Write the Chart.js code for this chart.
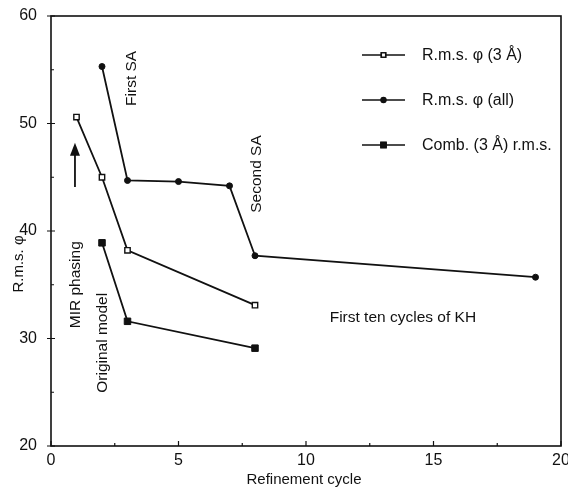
<!DOCTYPE html>
<html>
<head>
<meta charset="utf-8">
<title>Refinement cycle</title>
<script src="https://cdn.jsdelivr.net/npm/chart.js@4.4.1/dist/chart.umd.min.js"></script>
<style>
  html, body { margin: 0; padding: 0; background: #fff; }
  canvas { display: block; }
</style>
</head>
<body>
<canvas id="myChart" width="568" height="487"></canvas>
<script>
// r.m.s. phase error against refinement cycle
const cycles3A = [1, 2, 3, 8]
const rms3A = [50.6, 45.0, 38.2, 33.1]
const cyclesAll = [2, 3, 5, 7, 8, 19]
const rmsAll = [55.3, 44.7, 44.6, 44.2, 37.7, 35.7]
const cyclesComb = [2, 3, 8]
const rmsComb = [38.9, 31.6, 29.1]
const xTicks = [0, 5, 10, 15, 20]
const yTicks = [20, 30, 40, 50, 60]

const FONT = "'Liberation Sans', Arial, Helvetica, sans-serif"
const INK = '#111'

const toPoints = (xs, ys) => xs.map((x, i) => ({x: x, y: ys[i]}))

// notes written on the plot, placed in data units
const notes = [
    {text: 'First SA', x: 3.18, y: 54.2, rot: true},
    {text: 'Second SA', x: 8.08, y: 45.3, rot: true},
    {text: 'MIR phasing', x: 0.98, y: 35.0, rot: true},
    {text: 'Original model', x: 2.04, y: 29.6, rot: true},
    {text: 'First ten cycles of KH', x: 13.8, y: 31.9, rot: false}
]
const arrow = {x: 0.94, from: 44.1, to: 48.2}

// box, inward ticks, notes and the arrow
const plotDecor = {
    id: 'plotDecor',
    beforeDatasetsDraw(chart) {
        const {ctx, chartArea: a, scales: {x, y}} = chart
        ctx.save()
        ctx.strokeStyle = INK
        ctx.lineWidth = 1.6
        ctx.strokeRect(a.left, a.top, a.right - a.left, a.bottom - a.top)
        ctx.lineWidth = 1.2
        ctx.beginPath()
        for (let v = 0; v <= 20; v += 2.5) {
            const px = x.getPixelForValue(v)
            const len = v % 5 === 0 ? 5 : 3
            ctx.moveTo(px, a.bottom)
            ctx.lineTo(px, a.bottom - len)
        }
        for (let v = 20; v <= 60; v += 5) {
            const py = y.getPixelForValue(v)
            const major = v % 10 === 0
            ctx.moveTo(a.left - (major ? 4 : 0), py)
            ctx.lineTo(a.left + (major ? 4 : 3), py)
        }
        ctx.stroke()
        ctx.restore()
    },
    afterDatasetsDraw(chart) {
        const {ctx, chartArea: a, scales: {x, y}} = chart
        ctx.save()
        ctx.fillStyle = INK
        ctx.font = '15.5px ' + FONT
        ctx.textAlign = 'center'
        ctx.textBaseline = 'middle'
        notes.forEach(n => {
            const px = x.getPixelForValue(n.x)
            const py = y.getPixelForValue(n.y)
            ctx.save()
            ctx.translate(px, py)
            if (n.rot) ctx.rotate(-Math.PI / 2)
            ctx.fillText(n.text, 0, 0)
            ctx.restore()
        })

        // arrow pointing up
        const ax = x.getPixelForValue(arrow.x)
        const y0 = y.getPixelForValue(arrow.from)
        const y1 = y.getPixelForValue(arrow.to)
        ctx.strokeStyle = INK
        ctx.lineWidth = 1.8
        ctx.beginPath()
        ctx.moveTo(ax, y0)
        ctx.lineTo(ax, y1 + 10)
        ctx.stroke()
        ctx.beginPath()
        ctx.moveTo(ax, y1)
        ctx.lineTo(ax - 5, y1 + 13)
        ctx.lineTo(ax + 5, y1 + 13)
        ctx.closePath()
        ctx.fill()

        // axis titles
        ctx.font = '15px ' + FONT
        ctx.fillText('Refinement cycle', (a.left + a.right) / 2 - 2, 480)
        ctx.save()
        ctx.translate(19, 264)
        ctx.rotate(-Math.PI / 2)
        ctx.fillText('R.m.s. \u03c6', 0, 0)
        ctx.restore()

        // key, top right inside the box
        ctx.textAlign = 'left'
        ctx.font = '16px ' + FONT
        chart.data.datasets.forEach((ds, i) => {
            const ly = a.top + 39 + i * 45
            const lx0 = a.left + 311
            const lx1 = a.left + 354
            ctx.lineWidth = 1.6
            ctx.strokeStyle = INK
            ctx.beginPath()
            ctx.moveTo(lx0, ly)
            ctx.lineTo(lx1, ly)
            ctx.stroke()
            Chart.helpers.drawPoint(ctx, {
                pointStyle: ds.pointStyle,
                radius: ds.pointRadius * 0.8,
                rotation: 0,
                borderWidth: ds.pointBorderWidth
            }, (lx0 + lx1) / 2, ly)
            ctx.fillStyle = ds.pointBackgroundColor
            ctx.strokeStyle = INK
            ctx.lineWidth = ds.pointBorderWidth
            ctx.fill()
            ctx.stroke()
            ctx.fillStyle = INK
            ctx.fillText(ds.label, a.left + 371, ly + 1)
        })
        ctx.restore()
    }
}

const ctx = document.getElementById('myChart')

const phaseChart = new Chart(ctx, {
    type: 'scatter',
    data: {
        datasets: [{
            label: 'R.m.s. \u03c6 (3 \u00c5)',
            data: toPoints(cycles3A, rms3A),
            showLine: true,
            borderColor: INK,
            borderWidth: 1.8,
            pointStyle: 'rect',
            pointRadius: 3.8,
            pointBorderWidth: 1.4,
            pointBackgroundColor: '#fff',
            pointBorderColor: INK
        }, {
            label: 'R.m.s. \u03c6 (all)',
            data: toPoints(cyclesAll, rmsAll),
            showLine: true,
            borderColor: INK,
            borderWidth: 1.8,
            pointStyle: 'circle',
            pointRadius: 3,
            pointBorderWidth: 1,
            pointBackgroundColor: INK,
            pointBorderColor: INK
        }, {
            label: 'Comb. (3 \u00c5) r.m.s.',
            data: toPoints(cyclesComb, rmsComb),
            showLine: true,
            borderColor: INK,
            borderWidth: 1.8,
            pointStyle: 'rect',
            pointRadius: 4.6,
            pointBorderWidth: 1,
            pointBackgroundColor: INK,
            pointBorderColor: INK
        }]
    },
    options: {
        responsive: false,
        animation: false,
        devicePixelRatio: 1,
        layout: {
            padding: {top: 16, right: 7, left: 0, bottom: 0}
        },
        plugins: {
            legend: {display: false},
            tooltip: {enabled: false}
        },
        scales: {
            x: {
                type: 'linear',
                min: 0,
                max: 20,
                afterBuildTicks: s => { s.ticks = xTicks.map(v => ({value: v})) },
                afterFit: s => { s.height = 41; s.paddingLeft = 0; s.paddingRight = 0 },
                grid: {display: false},
                border: {display: false},
                ticks: {
                    color: INK,
                    padding: -3,
                    maxRotation: 0,
                    font: {family: FONT, size: 16}
                }
            },
            y: {
                type: 'linear',
                min: 20,
                max: 60,
                afterBuildTicks: s => { s.ticks = yTicks.map(v => ({value: v})) },
                afterFit: s => { s.width = 51; s.paddingTop = 0; s.paddingBottom = 0 },
                grid: {display: false},
                border: {display: false},
                ticks: {
                    color: INK,
                    padding: 6,
                    font: {family: FONT, size: 16}
                }
            }
        }
    },
    plugins: [plotDecor]
})
</script>
</body>
</html>
